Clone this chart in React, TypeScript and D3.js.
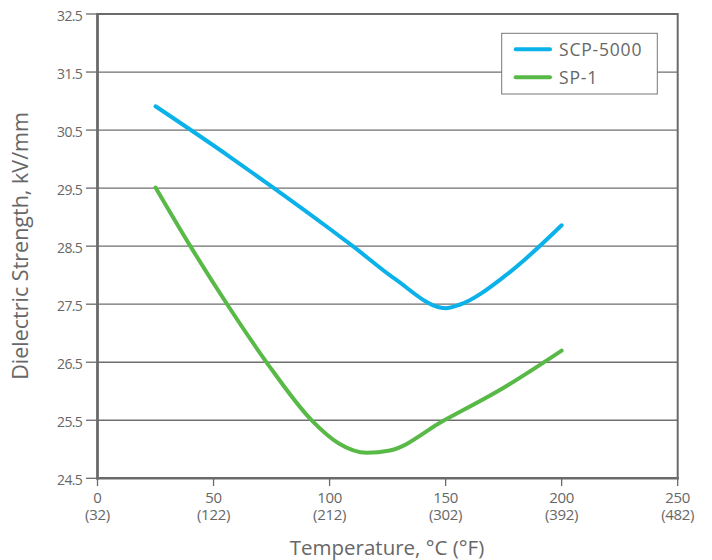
import React from "react";
import * as d3 from "d3";

const xTicks = [0, 50, 100, 150, 200, 250];
const xTickF = ["(32)", "(122)", "(212)", "(302)", "(392)", "(482)"];
const yTicks = [24.5, 25.5, 26.5, 27.5, 28.5, 29.5, 30.5, 31.5, 32.5];

const scpTemp = [25, 57, 76, 100, 110, 128, 150, 156, 176, 200];
const scpVal = [30.91, 30.04, 29.5, 28.8, 28.5, 27.94, 27.43, 27.49, 28.0, 28.86];

const sp1Temp = [25, 40, 56, 73, 92.5, 104, 116, 126, 149, 175, 200];
const sp1Val = [29.51, 28.5, 27.49, 26.49, 25.49, 25.1, 24.94, 24.98, 25.49, 26.06, 26.7];

const seriesNames = ["SCP-5000", "SP-1"];
const seriesColors = ["#0bb2ea", "#58b947"];

const W = 712;
const H = 560;
const L = 97.5, R = 677.7, T = 14, B = 478.3;
const txt = "#676767";
const ax = "#6a6a6a";

export default function App() {
  const x = d3.scaleLinear().domain([0, 250]).range([L, R]);
  const y = d3.scaleLinear().domain([24.5, 32.5]).range([B, T]);
  const line = d3
    .line<[number, number]>()
    .x((d) => x(d[0]))
    .y((d) => y(d[1]))
    .curve(d3.curveMonotoneX);
  const scp = scpTemp.map((t, i) => [t, scpVal[i]] as [number, number]);
  const sp1 = sp1Temp.map((t, i) => [t, sp1Val[i]] as [number, number]);
  const font = "'Open Sans', 'Noto Sans', sans-serif";

  return (
    <svg
      width={W}
      height={H}
      style={{ position: "absolute", left: 0, top: 0, background: "#fff" }}
      fontFamily={font}
    >
      <rect x={0} y={0} width={W} height={H} fill="#fff" />
      {yTicks.map((v) => (
        <line key={"g" + v} x1={L} x2={R} y1={y(v)} y2={y(v)} stroke="#6f6f6f" strokeWidth={1.3} />
      ))}
      {yTicks.map((v) => (
        <g key={"yt" + v}>
          <line x1={86} x2={L} y1={y(v)} y2={y(v)} stroke={ax} strokeWidth={1.3} />
          <text
            x={82}
            y={y(v) + 7}
            textAnchor="end"
            fontSize={14}
            letterSpacing={-0.7}
            fill={txt}
          >
            {v.toFixed(1)}
          </text>
        </g>
      ))}
      {xTicks.map((v, i) => (
        <g key={"xt" + v}>
          <line x1={x(v)} x2={x(v)} y1={B} y2={486} stroke={ax} strokeWidth={1.3} />
          <text textAnchor="middle" fontSize={15} letterSpacing={-0.3} fill={txt}>
            <tspan x={x(v)} y={503}>{v}</tspan>
            <tspan x={x(v)} y={520}>{xTickF[i]}</tspan>
          </text>
        </g>
      ))}
      <line x1={L} x2={R} y1={T} y2={T} stroke={ax} strokeWidth={2} />
      <line x1={R} x2={R} y1={T - 1} y2={B + 1} stroke={ax} strokeWidth={2} />
      <line x1={L - 1.25} x2={R + 1} y1={B} y2={B} stroke={ax} strokeWidth={2.5} />
      <line x1={L} x2={L} y1={T - 1} y2={B + 1.25} stroke={ax} strokeWidth={2.8} />
      <path d={line(scp) || ""} fill="none" stroke={seriesColors[0]} strokeWidth={4} strokeLinecap="round" strokeLinejoin="round" />
      <path d={line(sp1) || ""} fill="none" stroke={seriesColors[1]} strokeWidth={4} strokeLinecap="round" strokeLinejoin="round" />
      <rect x={501.7} y={33.3} width={155.6} height={60.7} fill="#fff" stroke="#777" strokeWidth={1} />
      {seriesNames.map((n, i) => (
        <g key={n}>
          <line
            x1={515.7}
            x2={550}
            y1={49.3 + i * 28}
            y2={49.3 + i * 28}
            stroke={seriesColors[i]}
            strokeWidth={4}
            strokeLinecap="round"
          />
          <text x={559} y={55.5 + i * 28} fontSize={17.5} letterSpacing={0.8} fill={txt}>
            {n}
          </text>
        </g>
      ))}
      <text x={387} y={554.5} textAnchor="middle" fontSize={20.5} fill={txt}>
        Temperature, °C (°F)
      </text>
      <text
        transform={`translate(28.3,246) rotate(-90)`}
        textAnchor="middle"
        fontSize={21.5}
        fill={txt}
      >
        Dielectric Strength, kV/mm
      </text>
    </svg>
  );
}
